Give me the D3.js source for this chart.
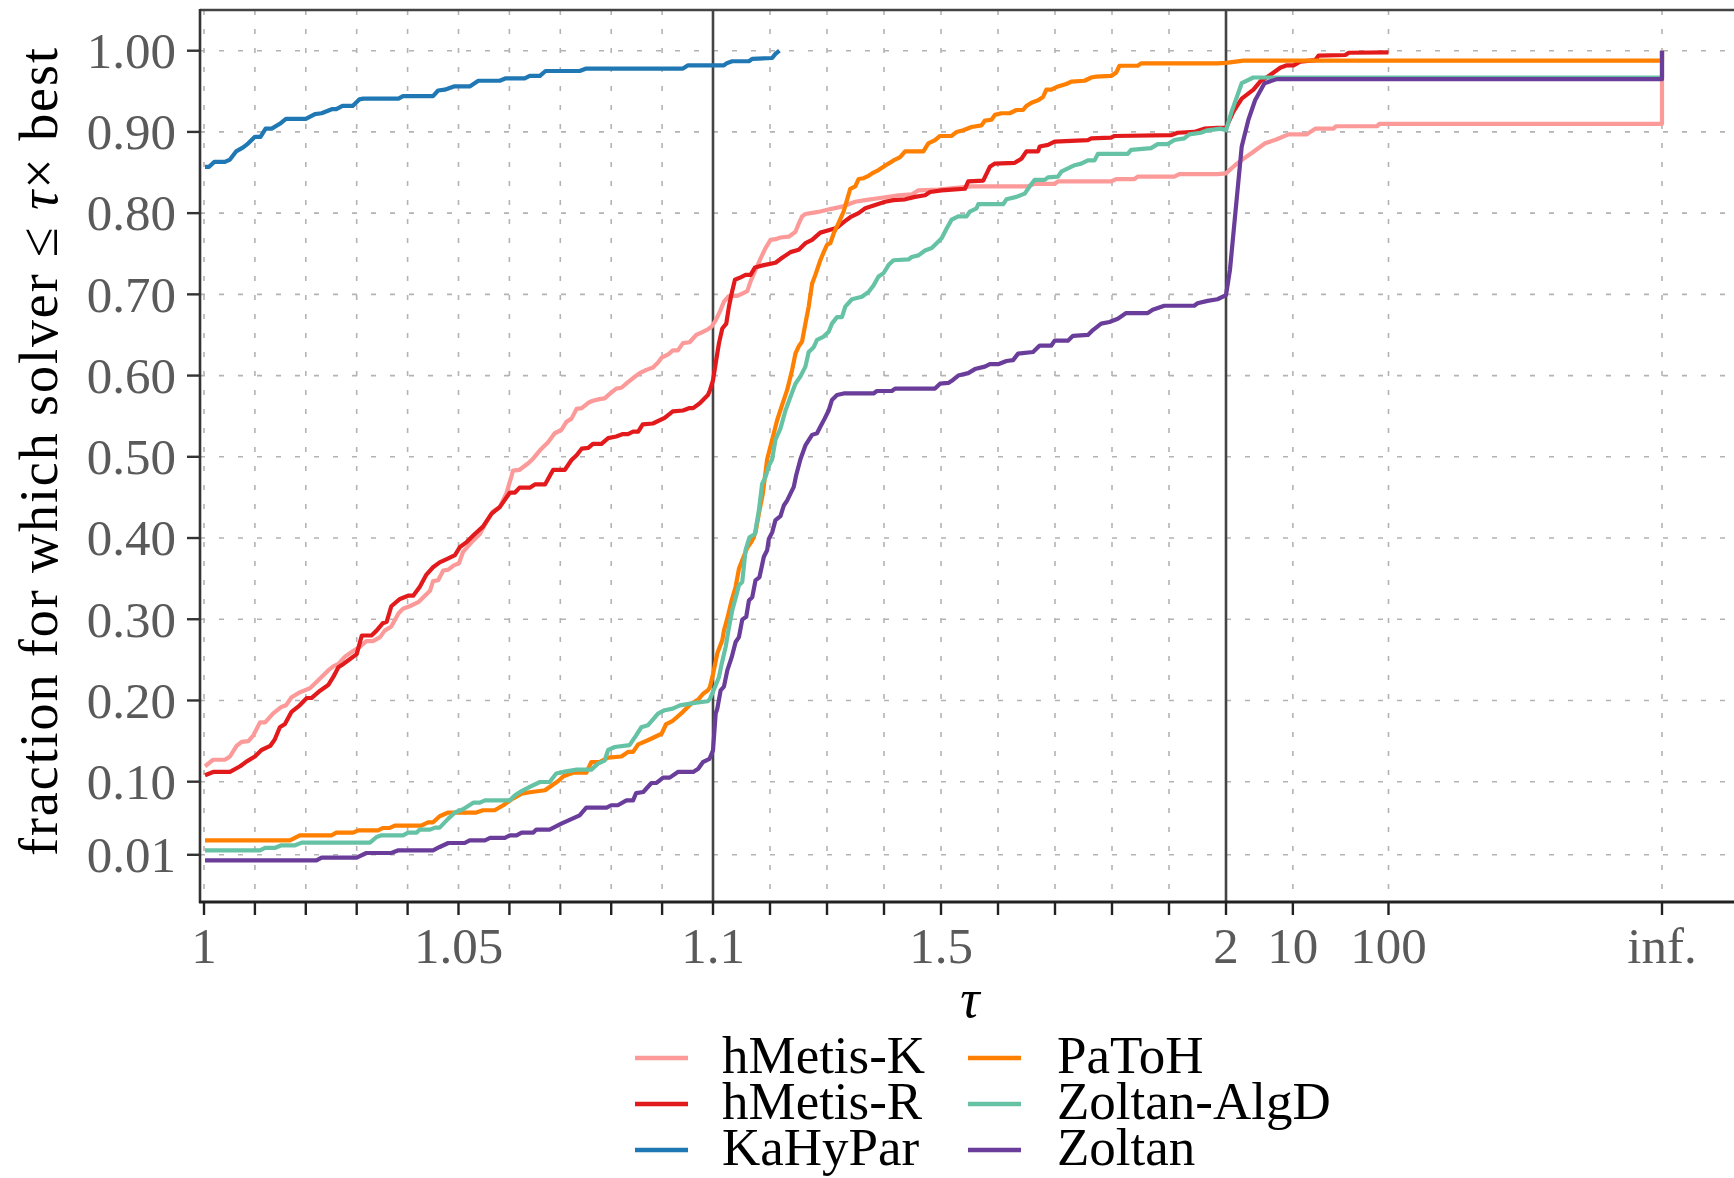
<!DOCTYPE html>
<html><head><meta charset="utf-8">
<script src="https://cdn.jsdelivr.net/npm/d3@7"></script>
<style>html,body{margin:0;padding:0;background:#fff}</style>
</head><body>
<svg id="chart" width="1734" height="1178"></svg>
<script>
// ---------------- data ----------------
const solvers = ["hMetis-K","hMetis-R","KaHyPar","PaToH","Zoltan-AlgD","Zoltan"];
const yTicks = [0.01,0.10,0.20,0.30,0.40,0.50,0.60,0.70,0.80,0.90,1.00];
const yTickLabels = ["0.01","0.10","0.20","0.30","0.40","0.50","0.60","0.70","0.80","0.90","1.00"];
const xMinorTicks = [1,1.01,1.02,1.03,1.04,1.05,1.06,1.07,1.08,1.09,1.1,1.2,1.3,1.4,1.5,1.6,1.7,1.8,1.9,2,10,100,Infinity];
const xLabelTicks = [1,1.05,1.1,1.5,2,10,100,Infinity];
const xTickLabels = ["1","1.05","1.1","1.5","2","10","100","inf."];
const xBreaks = [1.1,2];

const hMetisK = [[1.0002,0.119],[1.0018,0.127],[1.0041,0.127],[1.0051,0.131],[1.0064,0.144],[1.0074,0.149],[1.0087,0.150],[1.0097,0.157],[1.0110,0.173],[1.0120,0.173],[1.0136,0.184],[1.0152,0.192],[1.0161,0.194],[1.0172,0.204],[1.0188,0.210],[1.0208,0.215],[1.0218,0.221],[1.0228,0.227],[1.0244,0.237],[1.0254,0.242],[1.0264,0.245],[1.0277,0.254],[1.0293,0.261],[1.0306,0.266],[1.0319,0.273],[1.0332,0.273],[1.0346,0.278],[1.0355,0.286],[1.0368,0.291],[1.0382,0.307],[1.0391,0.313],[1.0404,0.316],[1.0421,0.321],[1.0444,0.335],[1.0450,0.347],[1.0460,0.348],[1.0470,0.360],[1.0480,0.361],[1.0490,0.366],[1.0501,0.369],[1.0509,0.383],[1.0519,0.390],[1.0529,0.397],[1.0542,0.405],[1.0555,0.420],[1.0568,0.433],[1.0581,0.438],[1.0594,0.455],[1.0604,0.476],[1.0607,0.483],[1.0620,0.484],[1.0637,0.492],[1.0647,0.498],[1.0660,0.508],[1.0676,0.518],[1.0689,0.529],[1.0702,0.533],[1.0712,0.543],[1.0722,0.547],[1.0732,0.559],[1.0742,0.560],[1.0755,0.5665],[1.0764,0.569],[1.0777,0.571],[1.0787,0.572],[1.0800,0.579],[1.0810,0.584],[1.0820,0.585],[1.0833,0.592],[1.0843,0.597],[1.0856,0.603],[1.0869,0.607],[1.0882,0.610],[1.0892,0.616],[1.0899,0.622],[1.0912,0.626],[1.0921,0.631],[1.0931,0.631],[1.0941,0.640],[1.0954,0.641],[1.0967,0.650],[1.0977,0.653],[1.0990,0.657],[1.0997,0.660],[1.1047,0.668],[1.1134,0.681],[1.1192,0.691],[1.1280,0.698],[1.1426,0.698],[1.1513,0.701],[1.1601,0.704],[1.1659,0.716],[1.1746,0.730],[1.1834,0.744],[1.1921,0.757],[1.2009,0.767],[1.2096,0.768],[1.2184,0.770],[1.2329,0.771],[1.2446,0.777],[1.2504,0.787],[1.2563,0.796],[1.2621,0.799],[1.2796,0.801],[1.2883,0.802],[1.3058,0.805],[1.3262,0.808],[1.3379,0.811],[1.3496,0.814],[1.3671,0.816],[1.3962,0.819],[1.4254,0.822],[1.4487,0.823],[1.4604,0.828],[1.4953,0.829],[1.5536,0.833],[1.6528,0.833],[1.6644,0.836],[1.6994,0.836],[1.7052,0.839],[1.7985,0.839],[1.8073,0.842],[1.8394,0.842],[1.8452,0.845],[1.9093,0.845],[1.9181,0.848],[1.9851,0.848],[2.0,0.849],[2.486,0.859],[3.04,0.867],[3.717,0.874],[5.13,0.886],[6.80,0.891],[9.01,0.897],[14.02,0.897],[15.2,0.900],[17.15,0.904],[26.7,0.904],[28.2,0.907],[76.0,0.907],[80.4,0.910],[Infinity,0.910],[Infinity,1.0]];

const hMetisR = [[1.0002,0.108],[1.0018,0.112],[1.0051,0.112],[1.0071,0.119],[1.0084,0.125],[1.0100,0.131],[1.0113,0.139],[1.0130,0.144],[1.0139,0.152],[1.0149,0.167],[1.0159,0.171],[1.0172,0.186],[1.0188,0.194],[1.0202,0.203],[1.0211,0.203],[1.0228,0.212],[1.0244,0.219],[1.0254,0.229],[1.0264,0.241],[1.0274,0.245],[1.0287,0.251],[1.0300,0.257],[1.0310,0.280],[1.0329,0.280],[1.0339,0.286],[1.0351,0.295],[1.0359,0.297],[1.0368,0.316],[1.0385,0.325],[1.0401,0.329],[1.0411,0.329],[1.0424,0.340],[1.0437,0.355],[1.0450,0.364],[1.0463,0.370],[1.0480,0.375],[1.0493,0.379],[1.0503,0.389],[1.0516,0.395],[1.0532,0.405],[1.0548,0.414],[1.0565,0.430],[1.0581,0.438],[1.0601,0.456],[1.0611,0.456],[1.0620,0.462],[1.0640,0.462],[1.0650,0.466],[1.0670,0.466],[1.0686,0.484],[1.0709,0.484],[1.0722,0.496],[1.0732,0.502],[1.0742,0.510],[1.0755,0.511],[1.0764,0.516],[1.0781,0.516],[1.0794,0.523],[1.0810,0.525],[1.0823,0.528],[1.0833,0.528],[1.0843,0.531],[1.0853,0.531],[1.0862,0.540],[1.0882,0.541],[1.0905,0.548],[1.0921,0.556],[1.0941,0.557],[1.0954,0.560],[1.0961,0.560],[1.0974,0.566],[1.0990,0.576],[1.0994,0.582],[1.1000,0.594],[1.1047,0.615],[1.1105,0.640],[1.1163,0.658],[1.1233,0.664],[1.1280,0.685],[1.1327,0.701],[1.1385,0.718],[1.1484,0.721],[1.1571,0.724],[1.1659,0.724],[1.1735,0.733],[1.1892,0.736],[1.2096,0.739],[1.2213,0.745],[1.2359,0.752],[1.2504,0.755],[1.2621,0.763],[1.2738,0.767],[1.2883,0.776],[1.3029,0.779],[1.3175,0.782],[1.3292,0.789],[1.3408,0.795],[1.3554,0.800],[1.3671,0.806],[1.3845,0.810],[1.4020,0.814],[1.4166,0.816],[1.4370,0.817],[1.4545,0.820],[1.4720,0.822],[1.4808,0.826],[1.5012,0.828],[1.5187,0.829],[1.5420,0.830],[1.5478,0.839],[1.5741,0.840],[1.5857,0.857],[1.5945,0.861],[1.6294,0.862],[1.6411,0.867],[1.6499,0.876],[1.6703,0.876],[1.6732,0.882],[1.6878,0.884],[1.6994,0.888],[1.7577,0.890],[1.7636,0.892],[1.7985,0.893],[1.8044,0.895],[1.9035,0.896],[1.9152,0.899],[1.9443,0.900],[1.9618,0.904],[1.9851,0.905],[2.0,0.905],[2.39,0.925],[2.92,0.941],[3.87,0.952],[4.55,0.962],[5.79,0.970],[7.37,0.979],[8.65,0.982],[10.17,0.982],[11.94,0.9865],[17.15,0.9885],[18.6,0.994],[35.4,0.9947],[38.4,0.9975],[100,0.998]];

const kaHyPar = [[1.0002,0.857],[1.0010,0.857],[1.0020,0.863],[1.0041,0.863],[1.0051,0.866],[1.0063,0.876],[1.0077,0.881],[1.0087,0.886],[1.0100,0.894],[1.0111,0.894],[1.0121,0.904],[1.0133,0.904],[1.0149,0.910],[1.0161,0.916],[1.0200,0.916],[1.0218,0.922],[1.0231,0.923],[1.0251,0.928],[1.0260,0.928],[1.0272,0.932],[1.0292,0.932],[1.0305,0.940],[1.0313,0.941],[1.0382,0.941],[1.0391,0.944],[1.0450,0.944],[1.0460,0.951],[1.0473,0.952],[1.0491,0.956],[1.0522,0.956],[1.0539,0.963],[1.0581,0.963],[1.0593,0.966],[1.0630,0.966],[1.0640,0.969],[1.0660,0.969],[1.0671,0.975],[1.0738,0.975],[1.0751,0.978],[1.0941,0.978],[1.0951,0.982],[1.1192,0.982],[1.1251,0.985],[1.1338,0.987],[1.1630,0.987],[1.1688,0.990],[1.2038,0.991],[1.2096,0.996],[1.2166,1.000]];

const paToH = [[1.0002,0.0278],[1.0169,0.0278],[1.0188,0.034],[1.0251,0.034],[1.0260,0.0373],[1.0293,0.0373],[1.0303,0.040],[1.0342,0.040],[1.0352,0.043],[1.0365,0.043],[1.0375,0.046],[1.0427,0.046],[1.0440,0.050],[1.0450,0.050],[1.0463,0.0574],[1.0480,0.062],[1.0535,0.062],[1.0548,0.0648],[1.0571,0.0648],[1.0588,0.071],[1.0604,0.078],[1.0624,0.0853],[1.0640,0.087],[1.0670,0.0894],[1.0679,0.0935],[1.0696,0.1009],[1.0706,0.1066],[1.0725,0.111],[1.0751,0.111],[1.0761,0.1242],[1.0777,0.1242],[1.0794,0.1296],[1.0820,0.131],[1.0833,0.1366],[1.0843,0.1366],[1.0853,0.146],[1.0872,0.151],[1.0899,0.159],[1.0908,0.171],[1.0921,0.175],[1.0941,0.186],[1.0957,0.196],[1.0971,0.201],[1.0980,0.208],[1.0990,0.2125],[1.0994,0.2166],[1.1002,0.233],[1.1076,0.258],[1.1163,0.274],[1.1192,0.286],[1.1251,0.301],[1.1327,0.323],[1.1397,0.340],[1.1455,0.362],[1.1513,0.3725],[1.1601,0.388],[1.1688,0.397],[1.1746,0.407],[1.1805,0.430],[1.1875,0.455],[1.1950,0.497],[1.2038,0.521],[1.2125,0.545],[1.2213,0.564],[1.2300,0.582],[1.2388,0.607],[1.2446,0.627],[1.2504,0.636],[1.2563,0.642],[1.2621,0.664],[1.2679,0.685],[1.2738,0.713],[1.2796,0.724],[1.2883,0.742],[1.2942,0.752],[1.3000,0.761],[1.3058,0.763],[1.3117,0.775],[1.3204,0.788],[1.3292,0.802],[1.3350,0.816],[1.3408,0.830],[1.3496,0.833],[1.3554,0.842],[1.3641,0.843],[1.3729,0.846],[1.3816,0.850],[1.3904,0.853],[1.3991,0.857],[1.4079,0.861],[1.4195,0.866],[1.4283,0.869],[1.4370,0.876],[1.4691,0.876],[1.4778,0.886],[1.4895,0.890],[1.4983,0.895],[1.5187,0.895],[1.5274,0.900],[1.5391,0.902],[1.5536,0.906],[1.5711,0.908],[1.5770,0.914],[1.5886,0.915],[1.5945,0.921],[1.6061,0.923],[1.6207,0.923],[1.6324,0.927],[1.6440,0.927],[1.6499,0.932],[1.6586,0.936],[1.6703,0.939],[1.6790,0.943],[1.6848,0.952],[1.6936,0.952],[1.7052,0.956],[1.7198,0.959],[1.7286,0.962],[1.7519,0.963],[1.7636,0.967],[1.7723,0.968],[1.7985,0.969],[1.8073,0.973],[1.8131,0.9815],[1.8452,0.9815],[1.8510,0.9844],[1.9851,0.9844],[2.0,0.985],[3.04,0.9877],[Infinity,0.9877],[Infinity,1.0]];

const zoltanAlgD = [[1.0002,0.0155],[1.0110,0.0155],[1.0120,0.0184],[1.0139,0.0184],[1.0152,0.0217],[1.0179,0.0217],[1.0192,0.025],[1.0326,0.025],[1.0339,0.0319],[1.0349,0.034],[1.0391,0.034],[1.0401,0.0373],[1.0418,0.0373],[1.0424,0.041],[1.0444,0.041],[1.0454,0.0434],[1.0463,0.0434],[1.0480,0.0545],[1.0493,0.062],[1.0509,0.066],[1.0529,0.0742],[1.0542,0.0742],[1.0552,0.077],[1.0601,0.077],[1.0611,0.0832],[1.0624,0.0885],[1.0640,0.0935],[1.0660,0.0996],[1.0679,0.0996],[1.0692,0.110],[1.0706,0.112],[1.0732,0.1148],[1.0761,0.1148],[1.0774,0.1222],[1.0787,0.126],[1.0794,0.139],[1.0807,0.1427],[1.0836,0.145],[1.0849,0.157],[1.0859,0.167],[1.0872,0.1694],[1.0892,0.1838],[1.0905,0.188],[1.0921,0.190],[1.0935,0.194],[1.0967,0.1973],[1.0990,0.199],[1.0994,0.202],[1.1047,0.2187],[1.1105,0.229],[1.1152,0.245],[1.1222,0.266],[1.1280,0.290],[1.1338,0.311],[1.1408,0.329],[1.1455,0.342],[1.1513,0.346],[1.1571,0.385],[1.1641,0.401],[1.1735,0.405],[1.1805,0.434],[1.1863,0.467],[1.1921,0.475],[1.1980,0.489],[1.2038,0.497],[1.2096,0.521],[1.2184,0.535],[1.2271,0.557],[1.2359,0.574],[1.2446,0.590],[1.2534,0.599],[1.2621,0.611],[1.2679,0.629],[1.2767,0.635],[1.2825,0.644],[1.2942,0.648],[1.3029,0.654],[1.3087,0.664],[1.3175,0.672],[1.3262,0.672],[1.3321,0.685],[1.3437,0.694],[1.3612,0.697],[1.3729,0.703],[1.3816,0.711],[1.3904,0.722],[1.3991,0.726],[1.4079,0.736],[1.4166,0.742],[1.4429,0.743],[1.4487,0.746],[1.4604,0.748],[1.4720,0.754],[1.4837,0.757],[1.4924,0.763],[1.5012,0.769],[1.5099,0.781],[1.5187,0.792],[1.5303,0.796],[1.5449,0.796],[1.5507,0.802],[1.5624,0.806],[1.5653,0.811],[1.6090,0.811],[1.6149,0.817],[1.6324,0.820],[1.6469,0.824],[1.6557,0.833],[1.6644,0.841],[1.6819,0.841],[1.6878,0.844],[1.7052,0.845],[1.7111,0.851],[1.7227,0.855],[1.7344,0.859],[1.7461,0.861],[1.7577,0.865],[1.7694,0.865],[1.7752,0.873],[1.8277,0.873],[1.8335,0.878],[1.8685,0.880],[1.8802,0.885],[1.8977,0.885],[1.9093,0.890],[1.9268,0.892],[1.9356,0.897],[1.9560,0.899],[1.9676,0.902],[1.9910,0.904],[2.0,0.902],[2.29,0.925],[2.92,0.960],[3.87,0.967],[Infinity,0.967],[Infinity,1.0]];

const zoltan = [[1.0002,0.0032],[1.0221,0.0032],[1.0231,0.0065],[1.0300,0.0065],[1.0319,0.0122],[1.0368,0.0122],[1.0382,0.0155],[1.0450,0.0155],[1.0463,0.0196],[1.0480,0.0245],[1.0512,0.0245],[1.0522,0.0278],[1.0552,0.0278],[1.0562,0.0307],[1.0591,0.0307],[1.0601,0.034],[1.0614,0.034],[1.0624,0.0373],[1.0647,0.0373],[1.0653,0.041],[1.0679,0.041],[1.0702,0.0483],[1.0738,0.0586],[1.0751,0.068],[1.0791,0.068],[1.0800,0.071],[1.0813,0.071],[1.0830,0.077],[1.0843,0.077],[1.0849,0.086],[1.0863,0.0873],[1.0879,0.0984],[1.0889,0.0984],[1.0902,0.105],[1.0915,0.105],[1.0931,0.112],[1.0961,0.112],[1.0971,0.116],[1.0980,0.124],[1.0993,0.128],[1.1000,0.1386],[1.1047,0.184],[1.1076,0.190],[1.1134,0.2125],[1.1192,0.217],[1.1251,0.237],[1.1327,0.253],[1.1397,0.272],[1.1455,0.278],[1.1513,0.2995],[1.1583,0.303],[1.1630,0.323],[1.1688,0.327],[1.1746,0.348],[1.1816,0.352],[1.1892,0.377],[1.1950,0.385],[1.1980,0.399],[1.2038,0.407],[1.2096,0.422],[1.2184,0.427],[1.2242,0.440],[1.2300,0.446],[1.2359,0.4546],[1.2417,0.463],[1.2458,0.477],[1.2534,0.497],[1.2621,0.514],[1.2738,0.527],[1.2825,0.529],[1.2883,0.537],[1.2959,0.547],[1.3029,0.557],[1.3087,0.570],[1.3175,0.576],[1.3292,0.578],[1.3816,0.578],[1.3875,0.581],[1.4137,0.581],[1.4195,0.584],[1.4895,0.584],[1.4983,0.590],[1.5128,0.591],[1.5216,0.595],[1.5303,0.600],[1.5478,0.603],[1.5595,0.608],[1.5770,0.611],[1.5857,0.614],[1.6003,0.614],[1.6149,0.618],[1.6265,0.619],[1.6353,0.627],[1.6615,0.629],[1.6732,0.637],[1.6936,0.637],[1.6994,0.643],[1.7227,0.643],[1.7315,0.649],[1.7577,0.650],[1.7665,0.656],[1.7810,0.664],[1.7956,0.666],[1.8102,0.670],[1.8248,0.677],[1.8627,0.677],[1.8714,0.681],[1.8918,0.686],[1.9443,0.686],[1.9501,0.689],[1.9676,0.692],[1.9851,0.694],[2.0,0.699],[2.20,0.730],[2.486,0.796],[2.92,0.882],[3.43,0.915],[4.03,0.939],[5.05,0.960],[6.80,0.965],[Infinity,0.965],[Infinity,1.0]];

const seriesData = [hMetisK, hMetisR, kaHyPar, paToH, zoltanAlgD, zoltan];
const seriesColors = ["#FB9A99","#E31A1C","#1F78B4","#FF7F00","#66C2A5","#6A3D9A"];

// ---------------- layout ----------------
const panel = {left: 200, right: 1734, top: 10, bottom: 902};
const svg = d3.select("#chart");
const serif = "'Liberation Serif','Times New Roman',serif";

// piecewise x scale made of d3 scales
const s1 = d3.scaleLinear().domain([1, 1.1]).range([204, 713]);
const s2 = d3.scaleLinear().domain([1.1, 2]).range([713, 1226]);
const s3 = d3.scaleLog().domain([2, 100]).range([1226, 1388.5]);
const xInfPos = 1662;
function x(t){
  if (!isFinite(t)) return xInfPos;
  if (t <= 1.1) return s1(t);
  if (t <= 2) return s2(t);
  return s3(t);
}
const y = d3.scaleLinear().domain([0, 1]).range([862.9, 50.7]);

// grid
const grid = svg.append("g");
grid.selectAll("line.h").data(yTicks).join("line")
  .attr("x1", panel.left).attr("x2", panel.right)
  .attr("y1", d => y(d)).attr("y2", d => y(d))
  .attr("stroke", "#b3b3b3").attr("stroke-width", 1.6).attr("stroke-dasharray", "5,14");
grid.selectAll("line.v").data(xMinorTicks.filter(t => !xBreaks.includes(t))).join("line")
  .attr("x1", d => x(d)).attr("x2", d => x(d))
  .attr("y1", panel.top).attr("y2", panel.bottom)
  .attr("stroke", "#b3b3b3").attr("stroke-width", 1.6).attr("stroke-dasharray", "5,14");

// break lines
svg.append("g").selectAll("line").data(xBreaks).join("line")
  .attr("x1", d => x(d)).attr("x2", d => x(d))
  .attr("y1", panel.top).attr("y2", panel.bottom)
  .attr("stroke", "#444").attr("stroke-width", 2.6);

// series lines
const line = d3.line().x(d => x(d[0])).y(d => y(d[1]));
svg.append("g").selectAll("path").data(seriesData).join("path")
  .attr("d", line)
  .attr("fill", "none")
  .attr("stroke", (d, i) => seriesColors[i])
  .attr("stroke-width", 4.2)
  .attr("stroke-linejoin", "round");

// panel border / axes
svg.append("line").attr("x1", panel.left).attr("x2", panel.right).attr("y1", panel.top).attr("y2", panel.top)
  .attr("stroke", "#444").attr("stroke-width", 2.6);
svg.append("line").attr("x1", panel.left).attr("x2", panel.left).attr("y1", panel.top - 1).attr("y2", panel.bottom + 1)
  .attr("stroke", "#333").attr("stroke-width", 2.6);
svg.append("line").attr("x1", panel.left - 1).attr("x2", panel.right).attr("y1", panel.bottom).attr("y2", panel.bottom)
  .attr("stroke", "#222").attr("stroke-width", 2.8);

// y ticks
svg.append("g").selectAll("line").data(yTicks).join("line")
  .attr("x1", panel.left - 13).attr("x2", panel.left)
  .attr("y1", d => y(d)).attr("y2", d => y(d))
  .attr("stroke", "#333").attr("stroke-width", 2.4);
svg.append("g").selectAll("text").data(yTicks).join("text")
  .attr("x", 176).attr("y", d => y(d)).attr("dy", "0.34em")
  .attr("text-anchor", "end")
  .style("font-family", serif).style("font-size", "51px").attr("fill", "#5a5a5a")
  .text((d, i) => yTickLabels[i]);

// x ticks
svg.append("g").selectAll("line").data(xMinorTicks).join("line")
  .attr("x1", d => x(d)).attr("x2", d => x(d))
  .attr("y1", panel.bottom).attr("y2", panel.bottom + 13)
  .attr("stroke", "#222").attr("stroke-width", 2.4);
svg.append("g").selectAll("text").data(xLabelTicks).join("text")
  .attr("x", d => x(d)).attr("y", 963)
  .attr("text-anchor", "middle")
  .style("font-family", serif).style("font-size", "51px").attr("fill", "#5a5a5a")
  .text((d, i) => xTickLabels[i]);

// axis titles
svg.append("text").attr("x", 970).attr("y", 1017).attr("text-anchor", "middle")
  .style("font-family", serif).style("font-size", "54px").style("font-style", "italic")
  .text("τ");
const yt = svg.append("text")
  .attr("transform", "translate(57," + ((panel.top + panel.bottom) / 2 - 4) + ") rotate(-90)")
  .attr("text-anchor", "middle")
  .style("font-family", serif).style("font-size", "54px")
  .attr("textLength", 808).attr("lengthAdjust", "spacing");
yt.append("tspan").text("fraction for which solver ≤ ");
yt.append("tspan").style("font-style", "italic").text("τ");
yt.append("tspan").text("× best");

// legend
const legRows = [1058, 1104, 1150];
const legCols = [{kx: 635, tx: 722}, {kx: 968, tx: 1057}];
const leg = svg.append("g");
solvers.forEach((name, i) => {
  const col = legCols[Math.floor(i / 3)], ry = legRows[i % 3];
  leg.append("line").attr("x1", col.kx).attr("x2", col.kx + 53)
    .attr("y1", ry).attr("y2", ry)
    .attr("stroke", seriesColors[i]).attr("stroke-width", 4.5);
  leg.append("text").attr("x", col.tx).attr("y", ry + 15)
    .attr("textLength", [208, 208, 208, 150, 277, 150][i] * 0 || null)
    .style("font-family", serif).style("font-size", "53px").attr("fill", "#000")
    .text(name);
});
</script>
</body></html>
